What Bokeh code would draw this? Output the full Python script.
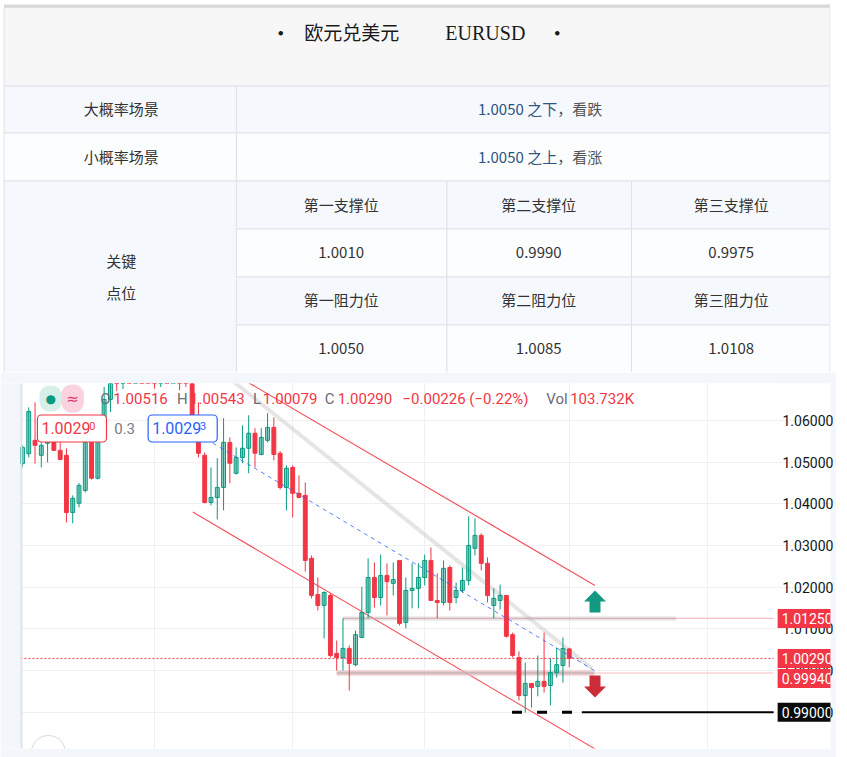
import numpy as np
from bokeh.plotting import figure
from bokeh.models import Range1d, FixedTicker, PrintfTickFormatter, Span, Label, ColumnDataSource
from bokeh.layouts import column
from bokeh.embed import file_html
from bokeh.resources import INLINE
from bokeh.core.properties import value

# ---------------- table data ----------------
title_cn = "欧元兑美元"
title_code = "EURUSD"
scenario_names = ["大概率场景", "小概率场景"]
scenario_levels = ["1.0050 之下", "1.0050 之上"]
scenario_views = ["，看跌", "，看涨"]
key_title = ["关键", "点位"]
support_names = ["第一支撑位", "第二支撑位", "第三支撑位"]
support_values = ["1.0010", "0.9990", "0.9975"]
resist_names = ["第一阻力位", "第二阻力位", "第三阻力位"]
resist_values = ["1.0050", "1.0085", "1.0108"]

# ---------------- candle data (OHLC) ----------------
opens = [1.0496, 1.0520, 1.0552, 1.0516, 1.0545, 1.0552, 1.0528, 1.0516, 1.0379, 1.0401,
         1.0432, 1.0547, 1.0461, 1.0559, 1.0650, 1.0700, 1.0690, 1.0735, 1.0720, 1.0760,
         1.0745, 1.0720, 1.0700, 1.0730, 1.0715, 1.0740, 1.0720, 1.0700, 1.0552, 1.0516,
         1.0403, 1.0415, 1.0439, 1.0547, 1.0473, 1.0511, 1.0533, 1.0569, 1.0518, 1.0552,
         1.0583, 1.0521, 1.0439, 1.0487, 1.0425, 1.0420, 1.0269, 1.0182, 1.0156, 1.0180,
         1.0041, 1.0031, 1.0053, 1.0014, 1.0079, 1.0139, 1.0223, 1.0175, 1.0228, 1.0209,
         1.0264, 1.0115, 1.0192, 1.0197, 1.0223, 1.0264, 1.0168, 1.0163, 1.0247, 1.0175,
         1.0192, 1.0216, 1.0293, 1.0324, 1.0257, 1.0156, 1.0168, 1.0180, 1.0086, 1.0031,
         0.9940, 0.9969, 0.9962, 0.9974, 0.9964, 0.9995, 1.0012, 1.00516]
highs = [1.0540, 1.0631, 1.0643, 1.0547, 1.0555, 1.0555, 1.0550, 1.0533, 1.0420, 1.0449,
         1.0552, 1.0557, 1.0567, 1.0680, 1.0715, 1.0740, 1.0760, 1.0770, 1.0785, 1.0790,
         1.0770, 1.0740, 1.0750, 1.0760, 1.0765, 1.0770, 1.0750, 1.0720, 1.0643, 1.0523,
         1.0487, 1.0509, 1.0605, 1.0559, 1.0535, 1.0588, 1.0612, 1.0581, 1.0581, 1.0617,
         1.0607, 1.0526, 1.0492, 1.0492, 1.0468, 1.0451, 1.0276, 1.0223, 1.0190, 1.0185,
         1.0072, 1.0125, 1.0060, 1.0096, 1.0201, 1.0269, 1.0259, 1.0278, 1.0257, 1.0259,
         1.0264, 1.0223, 1.0257, 1.0257, 1.0278, 1.0295, 1.0233, 1.0264, 1.0252, 1.0211,
         1.0247, 1.0370, 1.0365, 1.0329, 1.0271, 1.0197, 1.0206, 1.0180, 1.0091, 1.0046,
         1.0019, 0.9969, 1.0036, 1.0091, 1.0029, 1.0055, 1.0079, 1.00543]
lows = [1.0487, 1.0511, 1.0496, 1.0487, 1.0499, 1.0526, 1.0504, 1.0355, 1.0353, 1.0391,
        1.0427, 1.0458, 1.0458, 1.0552, 1.0620, 1.0670, 1.0675, 1.0695, 1.0700, 1.0725,
        1.0690, 1.0676, 1.0680, 1.0690, 1.0700, 1.0672, 1.0680, 1.0600, 1.0511, 1.0401,
        1.0396, 1.0362, 1.0384, 1.0449, 1.0470, 1.0497, 1.0473, 1.0487, 1.0516, 1.0547,
        1.0504, 1.0434, 1.0384, 1.0367, 1.0413, 1.0237, 1.0173, 1.0144, 1.0077, 1.0031,
        1.0000, 1.0000, 0.9952, 1.0010, 1.0079, 1.0125, 1.0151, 1.0156, 1.0132, 1.0180,
        1.0108, 1.0101, 1.0149, 1.0149, 1.0204, 1.0168, 1.0125, 1.0156, 1.0144, 1.0161,
        1.0187, 1.0204, 1.0276, 1.0240, 1.0163, 1.0125, 1.0146, 1.0079, 1.0031, 0.9928,
        0.9899, 0.9911, 0.9938, 0.9947, 0.9916, 0.9983, 0.9971, 1.00079]
closes = [1.0535, 1.0621, 1.0540, 1.0540, 1.0552, 1.0528, 1.0506, 1.0379, 1.0413, 1.0444,
          1.0547, 1.0461, 1.0557, 1.0650, 1.0700, 1.0690, 1.0735, 1.0720, 1.0760, 1.0745,
          1.0720, 1.0700, 1.0730, 1.0715, 1.0740, 1.0720, 1.0700, 1.0612, 1.0521, 1.0403,
          1.0415, 1.0439, 1.0547, 1.0497, 1.0511, 1.0533, 1.0569, 1.0521, 1.0559, 1.0583,
          1.0518, 1.0439, 1.0485, 1.0425, 1.0415, 1.0264, 1.0180, 1.0156, 1.0187, 1.0036,
          1.0031, 1.0053, 1.0017, 1.0086, 1.0139, 1.0223, 1.0175, 1.0228, 1.0213, 1.0218,
          1.0113, 1.0192, 1.0197, 1.0223, 1.0264, 1.0168, 1.0163, 1.0245, 1.0163, 1.0192,
          1.0216, 1.0300, 1.0324, 1.0257, 1.0180, 1.0173, 1.0180, 1.0082, 1.0036, 0.9940,
          0.9969, 0.9959, 0.9974, 0.9962, 0.9995, 1.0014, 1.0053, 1.00290]

price_ticks = [0.98, 0.99, 1.00, 1.01, 1.02, 1.03, 1.04, 1.05, 1.06]
month_ticks = [21, 43, 64, 87, 109]

# drawings (bar index, price)
upper_channel_x = [30.0, 91.1]
upper_channel_y = [1.0743, 1.0204]
lower_channel_x = [27.1, 91.1]
lower_channel_y = [1.0380, 0.9812]
trend_x = [32.0, 90.6]
trend_y = [1.0712, 1.0005]
mid_x = [30.3, 91.0]
mid_y = [1.0545, 1.0000]
resist_level = 1.0125
support_level = 0.9994
target_level = 0.9900
last_price = 1.00290
resist_start, resist_gray_end = 51, 104
support_start, support_gray_end = 50, 91
target_dash_start, target_solid_start = 77.9, 89.0
arrow_bar = 91.1
up_arrow_price = 1.01655
down_arrow_price = 0.99616

legend_parts = [("O", "gray"), ("1.00516", "red"), ("H", "gray"), ("1.00543", "red"),
                ("L", "gray"), ("1.00079", "red"), ("C", "gray"), ("1.00290", "red"),
                ("\u22120.00226 (\u22120.22%)", "red"), ("Vol", "gray"), ("103.732K", "red")]
legend_px = [100, 113, 177, 190, 253, 263, 325, 338, 403, 547, 571]

UP = "#089981"
DN = "#f23645"
CJK = "Noto Sans CJK SC"
FRAME_R = 832   # right edge of the shared plot frame (page px)

# ======================= table =======================
tab = figure(width=836, height=372, x_range=Range1d(0, FRAME_R), y_range=Range1d(372, 0),
             x_axis_location=None, y_axis_location=None,
             toolbar_location=None, output_backend="svg", min_border=0, min_border_right=4,
             outline_line_color=None, background_fill_color="white", border_fill_color="white")
tab.grid.visible = False

LB = "#f5f9fe"
WH = "#fcfdfe"
BORDER = "#dfe3e8"
cx = [3.5, 236.5, 447.5, 632.5, 831.5]
ry = [85.5, 132.5, 180.5, 228.5, 276.5, 324.5, 372]
cl, cr, ct, cb, cf = [], [], [], [], []
def cell(l, r, t, b, f):
    cl.append(l); cr.append(r); ct.append(t); cb.append(b); cf.append(f)
cell(cx[0], cx[4], 7, ry[0], "#f7f7f7")
cell(cx[0], cx[1], ry[0], ry[1], LB); cell(cx[1], cx[4], ry[0], ry[1], LB)
cell(cx[0], cx[1], ry[1], ry[2], WH); cell(cx[1], cx[4], ry[1], ry[2], WH)
cell(cx[0], cx[1], ry[2], ry[6], LB)
for r in range(4):
    for c in range(3):
        cell(cx[c + 1], cx[c + 2], ry[r + 2], ry[r + 3], LB if r % 2 == 0 else WH)
tab.quad(left=cl, right=cr, top=ct, bottom=cb, fill_color=cf, line_color=BORDER, line_width=1)
tab.quad(left=[cx[0]], right=[cx[4]], top=[4], bottom=[7], fill_color="#d9d9d9", line_color=None)

tab.text(x=[281, 558], y=[31, 31], text=["\u2022", "\u2022"], text_font=value(CJK),
         text_font_size="21px", text_align="center", text_baseline="middle", text_color="#1a1a1a")
tab.text(x=[352], y=[31], text=[title_cn], text_font=value(CJK), text_font_size="19px",
         text_align="center", text_baseline="middle", text_color="#1a1a1a")
tab.text(x=[486], y=[32], text=[title_code], text_font=value("Liberation Serif"), text_font_size="20px",
         text_align="center", text_baseline="middle", text_color="#1a1a1a")

row_y = [108, 156]
tab.text(x=[121, 121], y=row_y, text=scenario_names, text_font=value(CJK), text_font_size="15px",
         text_align="center", text_baseline="middle", text_color="#333333")
tab.text(x=[558, 558], y=row_y, text=scenario_levels, text_font=value(CJK), text_font_size="15px",
         text_align="right", text_baseline="middle", text_color="#2e5481")
tab.text(x=[558, 558], y=row_y, text=scenario_views, text_font=value(CJK), text_font_size="15px",
         text_align="left", text_baseline="middle", text_color="#555555")
tab.text(x=[121, 121], y=[260, 292], text=key_title, text_font=value(CJK), text_font_size="15px",
         text_align="center", text_baseline="middle", text_color="#333333")
col_cx = [341.5, 539.5, 732.5]
for txts, yy in [(support_names, 204), (support_values, 252), (resist_names, 299), (resist_values, 348)]:
    tab.text(x=col_cx, y=[yy] * 3, text=txts, text_font=value(CJK), text_font_size="15px",
             text_align="center", text_baseline="middle", text_color="#333333")

# ======================= chart =======================
def bx(px):
    return (px - 22.0) / 6.3

def py(pyx):
    return 1.0 + (670.0 - pyx) / 4170.0

chart = figure(width=836, height=385, x_range=Range1d(bx(0), bx(FRAME_R)), y_range=Range1d(py(748), py(383)),
               y_axis_location="right", x_axis_location=None, toolbar_location=None, output_backend="svg",
               min_border_left=0, min_border_top=11, min_border_bottom=9, min_border_right=4,
               background_fill_color="white", border_fill_color="#f3f7fc", outline_line_color=None)
ya = chart.yaxis[0]
ya.ticker = FixedTicker(ticks=price_ticks)
ya.formatter = PrintfTickFormatter(format="%.5f")
ya.axis_line_color = None
ya.major_tick_line_color = None
ya.minor_tick_line_color = None
ya.major_tick_out = 0
ya.major_tick_in = 0
ya.major_label_text_font = "Roboto"
ya.major_label_text_font_size = "14px"
ya.major_label_text_color = "#131722"
ya.major_label_standoff = -48
chart.ygrid.ticker = FixedTicker(ticks=price_ticks)
chart.xgrid.ticker = FixedTicker(ticks=month_ticks)
chart.grid.grid_line_color = "#eef0f3"
chart.grid.grid_line_width = 1

# white price-scale area (covers the grid on the right) and light-blue left band
chart.quad(left=[bx(775)], right=[bx(900)], bottom=[0.9], top=[1.2], fill_color="white",
           line_color=None, level="underlay")
chart.quad(left=[bx(-10)], right=[bx(20)], bottom=[0.9], top=[1.2], fill_color="#f3f7fc",
           line_color=None)
chart.add_layout(Span(location=bx(21), dimension="height", line_color="#dde2ea", line_width=2))

AXL = bx(775)

# channel lines
chart.line(upper_channel_x, upper_channel_y, line_color="#f23645", line_width=1.2, line_alpha=0.85)
chart.line(lower_channel_x, lower_channel_y, line_color="#f23645", line_width=1.2, line_alpha=0.85)

# horizontal levels
chart.line([resist_start, AXL], [resist_level] * 2, line_color="#f7a3ad", line_width=1.2, line_alpha=0.7)
chart.line([resist_start, resist_gray_end], [resist_level] * 2, line_color="#9e9e9e", line_width=4, line_alpha=0.3)
chart.line([support_start, AXL], [support_level] * 2, line_color="#f7a3ad", line_width=1.2, line_alpha=0.7)
chart.line([support_start, support_gray_end], [support_level] * 2, line_color="#f6c4ca", line_width=6, line_alpha=0.6)
chart.line([support_start, support_gray_end], [support_level] * 2, line_color="#9e9e9e", line_width=3, line_alpha=0.45)

# gray trend line
chart.line(trend_x, trend_y, line_color="#b5b5b5", line_width=4, line_alpha=0.35)

# candles
o = np.array(opens); h = np.array(highs); l = np.array(lows); c = np.array(closes)
idx = np.arange(len(o))
up = c >= o
dn = ~up
src_up = ColumnDataSource(dict(x=idx[up], top=c[up], bottom=o[up], high=h[up], low=l[up]))
src_dn = ColumnDataSource(dict(x=idx[dn], top=o[dn], bottom=c[dn], high=h[dn], low=l[dn]))
chart.segment(x0="x", y0="high", x1="x", y1="low", source=src_up, line_color=UP, line_width=1)
chart.segment(x0="x", y0="high", x1="x", y1="low", source=src_dn, line_color=DN, line_width=1)
chart.vbar(x="x", width=0.62, top="top", bottom="bottom", source=src_up,
           fill_color=UP, fill_alpha=0.45, line_color=UP, line_width=1)
chart.vbar(x="x", width=0.62, top="top", bottom="bottom", source=src_dn,
           fill_color=DN, line_color=DN, line_width=1)

# mid dashed line
chart.line(mid_x, mid_y, line_color="#2962ff", line_width=1, line_dash="4 4", line_alpha=0.8)

# target level
chart.line([target_dash_start, target_solid_start], [target_level] * 2, line_color="black", line_width=3,
           line_dash="10 15")
chart.line([target_solid_start, AXL], [target_level] * 2, line_color="black", line_width=2)

# last price dotted
chart.line([bx(20), AXL], [last_price] * 2, line_color=DN, line_width=1, line_dash="2 2")

# arrows
up_shape = [(0, -11), (11, 0), (5.5, 0), (5.5, 11), (-5.5, 11), (-5.5, 0), (-11, 0)]
chart.patch([arrow_bar + dx / 6.3 for dx, dy in up_shape],
            [up_arrow_price - dy / 4170.0 for dx, dy in up_shape], fill_color="#139881", line_color=None)
chart.patch([arrow_bar + dx / 6.3 for dx, dy in up_shape],
            [down_arrow_price + dy / 4170.0 for dx, dy in up_shape], fill_color="#cc2b38", line_color=None)

# partial circle button at bottom-left
chart.scatter([bx(48)], [py(752)], marker="circle", size=34, fill_color="white",
              line_color="#d5d9e0", line_width=1)

# legend row
for (txt, kind), px in zip(legend_parts, legend_px):
    chart.add_layout(Label(x=bx(px), y=py(398), text=txt, text_font="Roboto", text_font_size="15px",
                           text_color=("#6a6d78" if kind == "gray" else DN),
                           text_align="left", text_baseline="middle"))
chart.add_layout(Label(x=bx(39), y=py(398), text="\u25cf", text_font="DejaVu Sans", text_font_size="12px",
                       text_color=UP, text_align="left", text_baseline="middle",
                       background_fill_color="#d6efe9", padding=6, border_radius=10))
chart.add_layout(Label(x=bx(61), y=py(398), text="\u2248", text_font="DejaVu Sans", text_font_size="15px",
                       text_color="#e0356f", text_align="left", text_baseline="middle",
                       background_fill_color="#fbd3df", padding=5, border_radius=10))

# price tags in chart
chart.add_layout(Label(x=bx(37), y=py(428), text="1.0029   ", text_font="Roboto", text_font_size="16px",
                       text_color=DN, text_align="left", text_baseline="middle",
                       background_fill_color="white", border_line_color=DN, border_line_width=1.2,
                       padding=4, border_radius=4))
chart.add_layout(Label(x=bx(89), y=py(425), text="0", text_font="Roboto", text_font_size="11px",
                       text_color=DN, text_align="left", text_baseline="middle"))
chart.add_layout(Label(x=bx(114), y=py(428), text="0.3", text_font="Roboto", text_font_size="15px",
                       text_color="#787b86", text_align="left", text_baseline="middle"))
chart.add_layout(Label(x=bx(148), y=py(428), text="1.0029   ", text_font="Roboto", text_font_size="16px",
                       text_color="#2962ff", text_align="left", text_baseline="middle",
                       background_fill_color="white", border_line_color="#2962ff", border_line_width=1.2,
                       padding=4, border_radius=4))
chart.add_layout(Label(x=bx(200), y=py(425), text="3", text_font="Roboto", text_font_size="11px",
                       text_color="#2962ff", text_align="left", text_baseline="middle"))

# axis price tags (the support tag is pushed down so it does not overlap the last-price tag)
tag_specs = [(resist_level, resist_level, DN), (last_price, last_price, DN),
             (support_level, py(678), DN), (target_level, target_level, "#0b0b0b")]
for val, ypos, bg in tag_specs:
    chart.add_layout(Label(x=bx(779), y=ypos, text="%.5f" % val, text_font="Roboto", text_font_size="14px",
                           text_color="white", text_align="left", text_baseline="middle",
                           background_fill_color=bg, padding=4))

layout = column(tab, chart, spacing=0)
open("out.html", "w").write(file_html(layout, INLINE))
